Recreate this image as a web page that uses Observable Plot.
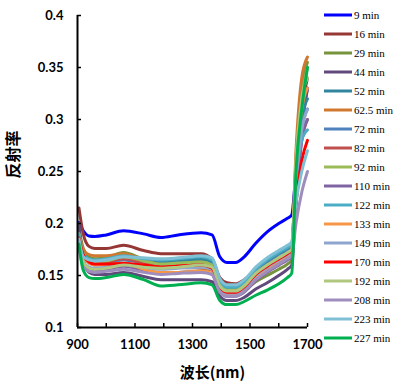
<!DOCTYPE html>
<html>
<head>
<meta charset="utf-8">
<script src="https://cdn.jsdelivr.net/npm/d3@7"></script>
<script src="https://cdn.jsdelivr.net/npm/@observablehq/plot@0.6"></script>
<style>
  body { margin: 0; background: #fff; }
  #chart { position: relative; width: 411px; height: 390px; }
  #chart svg { position: absolute; left: 0; top: 0; }
  g[aria-label="x-axis tick label"] text, g[aria-label="y-axis tick label"] text { font-weight: bold; }
  g.legend text { font-family: 'Liberation Serif', 'Times New Roman', serif; font-size: 11px; text-anchor: start; fill: #000; }
</style>
</head>
<body>
<div id="chart"></div>
<script>
const wavelengths = [905, 920, 940, 960, 1000, 1060, 1130, 1190, 1250, 1330, 1368, 1395, 1420, 1450, 1480, 1520, 1560, 1600, 1630, 1645, 1660, 1680, 1700];

const seriesNames = ["9 min", "16 min", "29 min", "44 min", "52 min", "62.5 min", "72 min", "82 min", "92 min", "110 min", "122 min", "133 min", "149 min", "170 min", "192 min", "208 min", "223 min", "227 min"];
const seriesColors = ["#0000ff", "#953735", "#77933c", "#604a7b", "#31859c", "#d0782f", "#4f81bd", "#c0504d", "#9bbb59", "#8064a2", "#4bacc6", "#f79646", "#8ea5cf", "#ff0000", "#afc77f", "#9f8ebd", "#7fc0d4", "#00b050"];

const r9   = [0.201, 0.193, 0.188, 0.1875, 0.189, 0.193, 0.190, 0.1865, 0.189, 0.191, 0.189, 0.168, 0.1625, 0.1625, 0.168, 0.181, 0.192, 0.200, 0.205, 0.208, 0.25, 0.30, 0.33];
const r16  = [0.215, 0.190, 0.178, 0.176, 0.176, 0.179, 0.174, 0.171, 0.171, 0.171, 0.166, 0.148, 0.143, 0.142, 0.146, 0.156, 0.165, 0.172, 0.177, 0.180, 0.25, 0.31, 0.34];
const r29  = [0.195, 0.176, 0.168, 0.166, 0.167, 0.172, 0.166, 0.163, 0.164, 0.165, 0.161, 0.140, 0.134, 0.133, 0.136, 0.144, 0.150, 0.156, 0.161, 0.165, 0.26, 0.33, 0.355];
const r44  = [0.200, 0.165, 0.153, 0.151, 0.151, 0.153, 0.149, 0.146, 0.146, 0.146, 0.144, 0.130, 0.126, 0.126, 0.129, 0.137, 0.143, 0.150, 0.156, 0.160, 0.22, 0.29, 0.33];
const r52  = [0.190, 0.172, 0.165, 0.163, 0.164, 0.168, 0.165, 0.163, 0.164, 0.166, 0.163, 0.142, 0.137, 0.137, 0.142, 0.154, 0.163, 0.170, 0.175, 0.178, 0.24, 0.30, 0.32];
const r62  = [0.190, 0.175, 0.170, 0.169, 0.169, 0.171, 0.165, 0.160, 0.158, 0.157, 0.155, 0.138, 0.134, 0.135, 0.140, 0.150, 0.158, 0.164, 0.169, 0.172, 0.27, 0.34, 0.36];
const r72  = [0.185, 0.168, 0.162, 0.160, 0.161, 0.165, 0.162, 0.160, 0.161, 0.163, 0.160, 0.140, 0.135, 0.135, 0.140, 0.152, 0.161, 0.168, 0.173, 0.176, 0.23, 0.29, 0.31];
const r82  = [0.188, 0.170, 0.164, 0.162, 0.163, 0.166, 0.162, 0.159, 0.160, 0.161, 0.158, 0.139, 0.134, 0.134, 0.139, 0.150, 0.158, 0.165, 0.170, 0.173, 0.23, 0.28, 0.30];
const r92  = [0.190, 0.171, 0.165, 0.163, 0.164, 0.168, 0.164, 0.161, 0.162, 0.163, 0.160, 0.141, 0.136, 0.136, 0.141, 0.152, 0.160, 0.167, 0.172, 0.175, 0.26, 0.32, 0.35];
const r110 = [0.185, 0.163, 0.157, 0.155, 0.156, 0.159, 0.155, 0.152, 0.153, 0.154, 0.151, 0.134, 0.130, 0.130, 0.134, 0.145, 0.153, 0.160, 0.165, 0.168, 0.22, 0.28, 0.30];
const r122 = [0.190, 0.170, 0.166, 0.165, 0.166, 0.169, 0.166, 0.165, 0.166, 0.168, 0.165, 0.145, 0.139, 0.139, 0.144, 0.156, 0.165, 0.172, 0.177, 0.180, 0.24, 0.28, 0.29];
const r133 = [0.185, 0.168, 0.162, 0.160, 0.160, 0.162, 0.156, 0.153, 0.153, 0.154, 0.152, 0.136, 0.132, 0.133, 0.138, 0.149, 0.157, 0.163, 0.168, 0.171, 0.25, 0.31, 0.33];
const r149 = [0.180, 0.163, 0.158, 0.157, 0.158, 0.161, 0.158, 0.156, 0.157, 0.158, 0.156, 0.138, 0.133, 0.133, 0.138, 0.150, 0.158, 0.165, 0.170, 0.173, 0.24, 0.29, 0.31];
const r170 = [0.186, 0.170, 0.163, 0.161, 0.161, 0.1615, 0.160, 0.158, 0.159, 0.160, 0.157, 0.139, 0.134, 0.134, 0.139, 0.151, 0.159, 0.166, 0.171, 0.174, 0.22, 0.26, 0.28];
const r192 = [0.183, 0.163, 0.157, 0.156, 0.157, 0.160, 0.158, 0.157, 0.158, 0.160, 0.158, 0.140, 0.135, 0.135, 0.140, 0.152, 0.160, 0.167, 0.172, 0.175, 0.26, 0.32, 0.34];
const r208 = [0.178, 0.158, 0.154, 0.153, 0.154, 0.156, 0.153, 0.151, 0.152, 0.153, 0.151, 0.134, 0.130, 0.130, 0.135, 0.146, 0.154, 0.161, 0.166, 0.169, 0.20, 0.23, 0.25];
const r223 = [0.185, 0.168, 0.165, 0.164, 0.165, 0.168, 0.167, 0.166, 0.167, 0.169, 0.167, 0.147, 0.141, 0.141, 0.146, 0.158, 0.167, 0.174, 0.179, 0.182, 0.22, 0.25, 0.27];
const r227 = [0.180, 0.155, 0.148, 0.147, 0.148, 0.151, 0.146, 0.140, 0.141, 0.143, 0.141, 0.126, 0.122, 0.122, 0.125, 0.131, 0.136, 0.142, 0.148, 0.152, 0.25, 0.31, 0.35];

const seriesValues = [r9, r16, r29, r44, r52, r62, r72, r82, r92, r110, r122, r133, r149, r170, r192, r208, r223, r227];

const xTicks = [900, 1000, 1100, 1200, 1300, 1400, 1500, 1600, 1700];
const xLabels = [900, 1100, 1300, 1500, 1700];
const yTicks = [0.1, 0.15, 0.2, 0.25, 0.3, 0.35, 0.4];

const xTitle = "波长(nm)";
const yTitle = "反射率";

const rows = [];
seriesNames.forEach((name, i) => {
  seriesValues[i].forEach((v, j) => rows.push({series: name, nm: wavelengths[j], r: v}));
});

const tickFont = "Lato, 'Open Sans', sans-serif";

const plot = Plot.plot({
  width: 411,
  height: 390,
  marginLeft: 77,
  marginRight: 104,
  marginTop: 15,
  marginBottom: 63,
  style: {fontFamily: tickFont, fontSize: "13px", color: "#000", background: "transparent"},
  x: {domain: [900, 1700]},
  y: {domain: [0.1, 0.4]},
  color: {domain: seriesNames, range: seriesColors},
  marks: [
    Plot.line(rows, {x: "nm", y: "r", z: "series", stroke: "series", strokeWidth: 3, curve: "monotone-x"}),
    Plot.ruleX(xTicks, {x: d => d, insetTop: 308, stroke: "#000", strokeWidth: 1.5}),
    Plot.ruleY(yTicks, {y: d => d, insetRight: 226, stroke: "#000", strokeWidth: 1.5}),
    Plot.ruleX([900], {stroke: "#000", strokeWidth: 2}),
    Plot.ruleY([0.1], {stroke: "#000", strokeWidth: 2}),
    Plot.axisX({ticks: xLabels, tickSize: 0, tickPadding: 12, tickFormat: d => String(d), label: null, fontSize: 13}),
    Plot.axisY({ticks: yTicks, tickSize: 0, tickPadding: 14, tickFormat: d => String(+d.toFixed(2)), label: null, fontSize: 13}),
    Plot.text([yTitle], {frameAnchor: "left", dx: -64, dy: 7, rotate: -90, fontSize: 16, fontWeight: "bold", fontFamily: "'Noto Sans CJK SC', sans-serif", text: d => d}),
    Plot.text([xTitle], {frameAnchor: "bottom", dx: 20, dy: 50, fontSize: 15, fontWeight: "bold", fontFamily: "'Noto Sans CJK SC', sans-serif", text: d => d})
  ]
});

document.getElementById("chart").appendChild(plot);

// Legend
const svg = d3.select(plot);
const lg = svg.append("g").attr("class", "legend");
seriesNames.forEach((name, i) => {
  const y = 15 + i * 19;
  lg.append("line").attr("x1", 324).attr("x2", 352).attr("y1", y).attr("y2", y)
    .attr("stroke", seriesColors[i]).attr("stroke-width", 3);
  lg.append("text").attr("x", 354).attr("y", y).attr("dy", "0.35em")
    .attr("text-anchor", "start").text(name);
});
</script>
</body>
</html>
